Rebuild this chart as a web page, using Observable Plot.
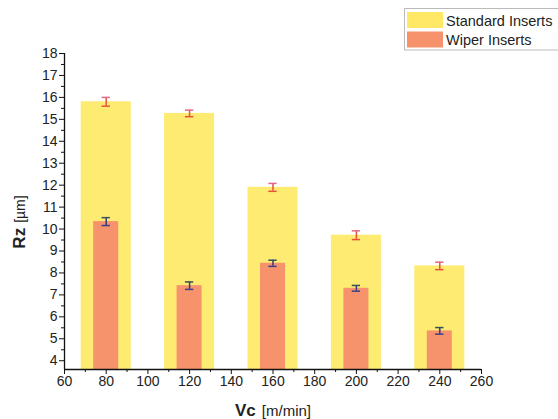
<!DOCTYPE html>
<html>
<head>
<meta charset="utf-8">
<script src="https://cdn.jsdelivr.net/npm/d3@7"></script>
<script src="https://cdn.jsdelivr.net/npm/@observablehq/plot@0.6"></script>
<style>
  html, body { margin: 0; padding: 0; background: #fff; }
  #chart { position: relative; width: 558px; height: 419px; overflow: hidden; }
</style>
</head>
<body>
<div id="chart"></div>
<script>
// Data
const vc = [80, 120, 160, 200, 240];
const standardRz = [15.8, 15.27, 11.9, 9.72, 8.32];
const standardErr = [0.2, 0.15, 0.18, 0.2, 0.17];
const wiperRz = [10.34, 7.42, 8.44, 7.3, 5.36];
const wiperErr = [0.18, 0.17, 0.14, 0.13, 0.15];
const xTicks = [60, 80, 100, 120, 140, 160, 180, 200, 220, 240, 260];
const xMinor = [70, 90, 110, 130, 150, 170, 190, 210, 230, 250];
const yTicks = [4, 5, 6, 7, 8, 9, 10, 11, 12, 13, 14, 15, 16, 17, 18];
const yMinor = [4.5, 5.5, 6.5, 7.5, 8.5, 9.5, 10.5, 11.5, 12.5, 13.5, 14.5, 15.5, 16.5, 17.5];
const seriesNames = ["Standard Inserts", "Wiper Inserts"];

const yellow = "#fdeb72";
const orange = "#f7936c";
const yMin = 3.6;

const rows = vc.map((v, i) => ({vc: v, std: standardRz[i], stdErr: standardErr[i], wip: wiperRz[i], wipErr: wiperErr[i]}));

const fontFamily = "Liberation Sans, Arial, sans-serif";

const plot = Plot.plot({
  width: 558,
  height: 419,
  marginLeft: 64,
  marginRight: 77,
  marginTop: 53,
  marginBottom: 50,
  style: {fontFamily, fontSize: "14px", color: "#222", background: "#fff"},
  x: {domain: [60, 260], label: null},
  y: {domain: [yMin, 18], label: null},
  marks: [
    Plot.rect(rows, {x1: d => d.vc - 12, x2: d => d.vc + 12, y1: yMin, y2: "std", fill: yellow}),
    Plot.rect(rows, {x1: d => d.vc - 6, x2: d => d.vc + 6, y1: yMin, y2: "wip", fill: orange}),
    // error bars standard
    Plot.ruleX(rows, {x: "vc", y1: d => d.std - d.stdErr, y2: d => d.std + d.stdErr, stroke: "#e5533a", strokeWidth: 1.5}),
    Plot.ruleY(rows, {y: d => d.std - d.stdErr, x1: d => d.vc - 2, x2: d => d.vc + 2, stroke: "#e5533a", strokeWidth: 1.5}),
    Plot.ruleY(rows, {y: d => d.std + d.stdErr, x1: d => d.vc - 2, x2: d => d.vc + 2, stroke: "#e06a8a", strokeWidth: 1.5}),
    // error bars wiper
    Plot.ruleX(rows, {x: "vc", y1: d => d.wip - d.wipErr, y2: d => d.wip + d.wipErr, stroke: "#2f3c7e", strokeWidth: 1.5}),
    Plot.ruleY(rows, {y: d => d.wip - d.wipErr, x1: d => d.vc - 2, x2: d => d.vc + 2, stroke: "#3b3f8a", strokeWidth: 1.5}),
    Plot.ruleY(rows, {y: d => d.wip + d.wipErr, x1: d => d.vc - 2, x2: d => d.vc + 2, stroke: "#3a4f5a", strokeWidth: 1.5}),
    // axes
    Plot.axisX({ticks: xTicks, tickSize: 5, tickPadding: 2, label: null, stroke: "#111", fill: "#222", fontSize: 14}),
    Plot.axisX({ticks: xMinor, tickSize: 3, tickFormat: () => "", label: null, stroke: "#111"}),
    Plot.axisY({ticks: yTicks, tickSize: 5, tickPadding: 2, label: null, stroke: "#111", fill: "#222", fontSize: 14}),
    Plot.axisY({ticks: yMinor, tickSize: 3, tickFormat: () => "", label: null, stroke: "#111"}),
    Plot.ruleX([60], {stroke: "#111", strokeWidth: 1.3}),
    Plot.ruleY([yMin], {stroke: "#111", strokeWidth: 1.3})
  ]
});

const svg = d3.select(plot);

// Axis titles
const yt = svg.append("text")
  .attr("transform", "translate(25,222) rotate(-90)")
  .attr("text-anchor", "middle")
  .attr("font-family", fontFamily)
  .attr("fill", "#222");
yt.append("tspan").attr("font-weight", "bold").attr("font-size", 17).text("Rz");
yt.append("tspan").attr("font-size", 14).attr("dx", 5).text("[µm]");

const xt = svg.append("text")
  .attr("x", 273).attr("y", 416)
  .attr("text-anchor", "middle")
  .attr("font-family", fontFamily)
  .attr("fill", "#222");
xt.append("tspan").attr("font-weight", "bold").attr("font-size", 17).text("Vc");
xt.append("tspan").attr("font-size", 15).attr("dx", 6).text("[m/min]");

// Legend
const lg = svg.append("g").attr("font-family", fontFamily).attr("text-anchor", "start");
lg.append("rect").attr("x", 404.5).attr("y", 8.5).attr("width", 220).attr("height", 41.5)
  .attr("fill", "#fff").attr("stroke", "#bbb");
[yellow, orange].forEach((c, i) => {
  lg.append("rect").attr("x", 407).attr("y", 12 + i * 19.5).attr("width", 36).attr("height", 16).attr("fill", i === 0 ? "#ffe866" : orange);
  lg.append("text").attr("x", 446).attr("y", 26 + i * 19).attr("text-anchor", "start")
    .attr("font-size", 14.5).attr("fill", "#222").text(seriesNames[i]);
});

document.getElementById("chart").appendChild(plot);
</script>
</body>
</html>
